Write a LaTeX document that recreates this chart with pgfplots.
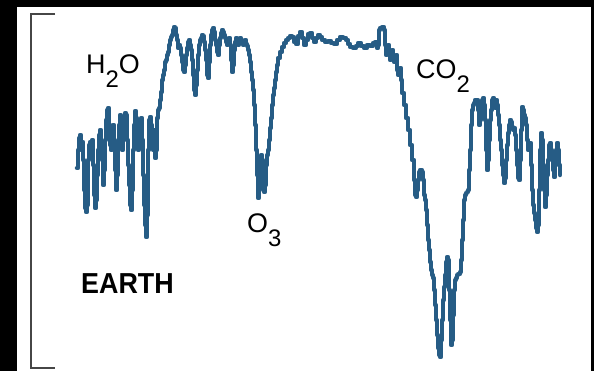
\documentclass[border=0pt]{standalone}
\usepackage{pgfplots}
\pgfplotsset{compat=1.18}
\usepackage{fontspec}
\setmainfont{Liberation Sans}
\definecolor{specblue}{RGB}{38,92,133}
\definecolor{bracketgray}{RGB}{70,70,70}

% emission spectrum, x and y in panel units (y grows downward)
\pgfplotstableread{
x y
77 168
78 150
79 138
80 135
81 150
82 142
83 160
84 190
85 208
86 212
87 205
88 160
89 145
90 142
91 150
92 140
93 165
94 195
95 208
96 200
97 175
98 150
99 135
100 130
101 145
102 160
103 185
104 170
105 140
106 120
107 110
108 108
109 125
110 145
111 150
112 130
113 125
114 140
115 170
116 190
117 175
118 145
119 125
120 115
121 120
122 150
123 140
124 120
125 113
126 115
127 140
128 165
129 185
130 205
131 210
132 190
133 150
134 125
135 111
136 118
137 140
138 150
139 135
140 120
141 118
142 140
143 175
144 205
145 225
146 237
147 215
148 150
149 120
150 117
151 125
152 145
153 150
154 130
155 158
156 150
157 118
158 110
159 108
160 100
161 92
162 80
163 75
164 70
165 62
166 60
167 55
168 52
169 45
170 40
171 37
172 35
173 30
174 27
175 28
176 35
177 40
178 48
179 45
180 48
181 55
182 62
183 70
184 72
185 65
186 55
187 48
188 42
189 40
190 45
191 50
192 60
193 75
194 90
195 95
196 85
197 70
198 55
199 45
200 40
201 38
202 35
203 36
204 42
205 50
206 60
207 75
208 78
209 62
210 45
211 35
212 30
213 28
214 32
215 40
216 45
217 52
218 55
219 45
220 38
221 33
222 30
223 32
224 35
225 38
226 42
227 45
228 40
229 38
230 45
231 60
232 72
233 65
234 50
235 42
236 38
237 40
238 45
239 42
240 38
241 40
242 44
243 45
244 42
245 40
246 44
247 46
248 50
249 55
250 62
251 72
252 80
253 90
254 105
255 125
256 150
257 175
258 198
259 190
260 170
261 155
262 160
263 180
264 192
265 185
266 165
267 155
268 150
269 140
270 128
271 118
272 105
273 95
274 88
275 80
276 72
277 65
278 58
280 52
282 47
284 43
286 40
288 38
290 36
292 37
294 42
296 44
298 36
300 32
302 38
304 45
306 40
308 34
310 33
312 38
314 42
316 38
318 35
320 37
322 40
325 42
328 41
331 43
334 44
337 40
340 37
343 38
346 40
348 44
350 47
353 48
356 46
358 43
361 46
364 48
367 45
370 46
373 43
375 42
377 48
378 45
379 30
380 28
382 27
384 30
385 45
386 55
387 50
388 45
389 55
390 60
391 52
392 50
393 58
394 62
395 60
396 55
397 70
398 75
399 72
400 68
401 80
402 93
404 105
406 118
408 130
410 145
412 160
414 180
415 195
416 197
417 190
418 180
419 172
420 170
421 170
422 172
423 180
424 195
425 200
426 210
427 225
428 240
429 250
430 262
431 270
432 275
433 278
434 290
435 305
436 320
437 335
438 348
439 355
440 357
441 340
442 320
443 300
444 287
445 275
446 262
447 257
448 260
449 290
450 320
451 345
452 340
453 315
454 290
455 280
456 278
457 275
458 274
460 272
461 260
462 240
463 220
464 200
465 195
466 193
467 192
468 190
469 170
470 150
471 125
472 110
473 105
474 103
475 100
476 102
477 100
478 110
479 125
480 120
481 105
482 100
483 98
484 105
485 120
486 150
487 170
488 160
489 140
490 120
491 110
492 100
493 98
494 102
495 108
496 100
497 105
498 115
499 125
500 140
501 150
502 165
503 175
504 183
505 178
506 160
507 145
508 133
509 125
510 120
511 122
512 127
513 130
514 128
515 135
516 150
517 165
518 178
519 180
520 160
521 130
522 107
523 110
524 115
525 118
526 125
527 140
528 150
529 145
530 143
531 165
532 190
533 205
534 213
535 220
536 228
537 232
538 225
539 190
540 150
541 133
542 140
543 165
544 190
545 207
546 195
547 175
548 160
549 145
550 143
551 150
552 160
553 170
554 177
555 165
556 150
557 143
558 150
559 165
560 175
}\spectrum

\begin{document}
\begin{tikzpicture}
% dark surround and white panel
\fill[black] (0,0) rectangle (594bp,371bp);
\fill[white] (17bp,0) rectangle (591bp,364bp);
% left bracket
\draw[bracketgray, line width=1.4bp] (55bp,357bp) -- (31bp,357bp) -- (31bp,3bp) -- (55bp,3bp);
\begin{axis}[
  at={(0,0)}, anchor=south west,
  width=594bp, height=371bp, scale only axis,
  xmin=0, xmax=594, ymin=0, ymax=371, y dir=reverse,
  hide axis, clip=false,
]
% stepped trace, as sampled by the spectrometer channels
\addplot[const plot, specblue, line width=4.5bp, line join=round, line cap=round] table[x=x,y=y] {\spectrum};
\node[anchor=base west, inner sep=0pt, font=\fontsize{27}{27}\selectfont]
  at (axis cs:86,73) {H\raisebox{-14bp}{\fontsize{24}{24}\selectfont 2}O};
\node[anchor=base west, inner sep=0pt, font=\fontsize{27}{27}\selectfont]
  at (axis cs:416,78) {CO\raisebox{-14bp}{\fontsize{24}{24}\selectfont 2}};
\node[anchor=base west, inner sep=0pt, font=\fontsize{27}{27}\selectfont]
  at (axis cs:247,232) {O\raisebox{-14bp}{\fontsize{24}{24}\selectfont 3}};
\node[anchor=base west, inner sep=0pt]
  at (axis cs:81,293) {\scalebox{0.93}[1]{\fontsize{29}{29}\selectfont\bfseries EARTH}};
\end{axis}
\end{tikzpicture}
\end{document}
